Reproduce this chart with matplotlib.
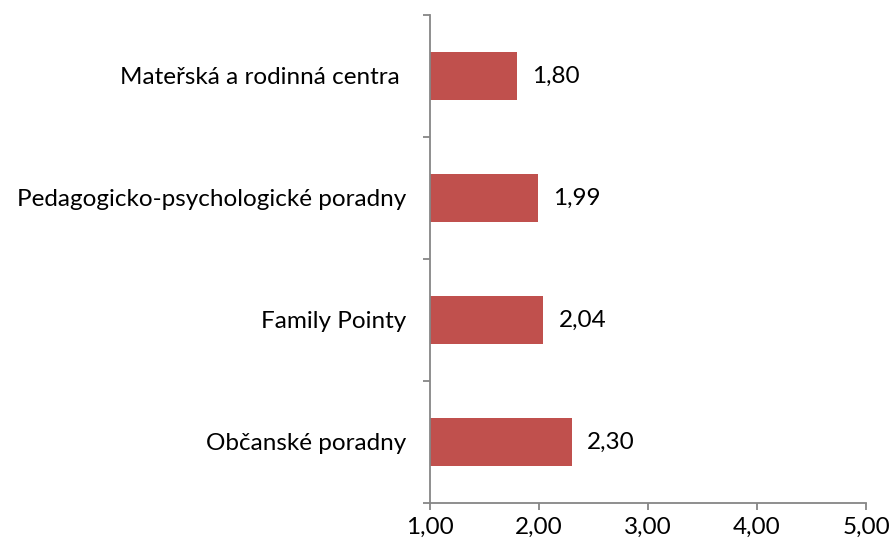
import matplotlib
matplotlib.use('Agg')
import matplotlib.pyplot as plt
import numpy as np

categories = ['Občanské poradny', 'Family Pointy', 'Pedagogicko-psychologické poradny', 'Mateřská a rodinná centra ']
values = [2.30, 2.04, 1.99, 1.80]
xticks = [1, 2, 3, 4, 5]

plt.rcParams['font.family'] = ['Lato', 'DejaVu Sans']
FS = 17.5

fig = plt.figure(figsize=(8.93, 5.49), dpi=100)
ax = fig.add_axes([0.4815, 0.0838, 0.4883, 0.8889])

gray = '#868686'
y = np.arange(len(categories))
left = 1.0
ax.barh(y, [v - left for v in values], left=left, height=0.4, color='#C0504D')

for yi, v in zip(y, values):
    ax.annotate('{:.2f}'.format(v).replace('.', ','), (v, yi), xytext=(11, 0),
                textcoords='offset points', va='center', ha='left', fontsize=FS)

ax.set_xlim(1, 5)
ax.set_ylim(-0.5, len(categories) - 0.5)
ax.set_xticks(xticks)
ax.set_xticklabels(['{:.2f}'.format(t).replace('.', ',') for t in xticks], fontsize=FS)
ax.set_yticks(y)
ax.set_yticklabels(categories, fontsize=FS)
ax.set_yticks(np.arange(-0.5, len(categories)), minor=True)

ax.tick_params(axis='y', which='major', length=0, pad=17)
ax.tick_params(axis='y', which='minor', length=5, width=1.3, color=gray, direction='out')
ax.tick_params(axis='x', length=5, width=1.3, color=gray, direction='out', pad=5)

for s in ['top', 'right']:
    ax.spines[s].set_visible(False)
for s in ['left', 'bottom']:
    ax.spines[s].set_color(gray)
    ax.spines[s].set_linewidth(1.3)

plt.savefig('out.png', dpi=100)
